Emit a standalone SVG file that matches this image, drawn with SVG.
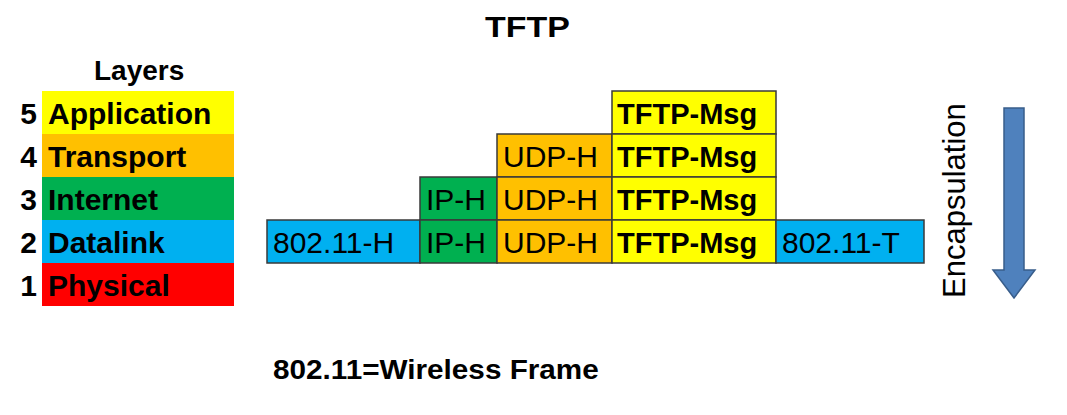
<svg xmlns="http://www.w3.org/2000/svg" width="1067" height="415" viewBox="0 0 1067 415">
<style>
text{font-family:"Liberation Sans",Arial,sans-serif;fill:#000}
.b{font-weight:bold}
.lay{font-size:30px;font-weight:bold}
.pk{font-size:30px}
.pkb{font-size:29px;font-weight:bold}
.box{stroke:#3a3a3a;stroke-width:1.5}
.y{fill:#FFFF00}.o{fill:#FFC000}.g{fill:#00B050}.bl{fill:#00B0F0}.r{fill:#FF0000}
</style>
<rect width="1067" height="415" fill="#fff"/>
<text id="title" class="b" transform="translate(485,37) scale(1.17,1)" font-size="29">TFTP</text>
<text class="b" x="94" y="80" font-size="28">Layers</text>
<g id="layer5"><rect class="y" x="42" y="91" width="192" height="43"/><text class="lay" x="37" y="124" text-anchor="end">5</text><text class="lay" x="48" y="124">Application</text></g>
<g id="layer4"><rect class="o" x="42" y="134" width="192" height="43"/><text class="lay" x="37" y="167" text-anchor="end">4</text><text class="lay" x="48" y="167">Transport</text></g>
<g id="layer3"><rect class="g" x="42" y="177" width="192" height="43"/><text class="lay" x="37" y="210" text-anchor="end">3</text><text class="lay" x="48" y="210">Internet</text></g>
<g id="layer2"><rect class="bl" x="42" y="220" width="192" height="43"/><text class="lay" x="37" y="253" text-anchor="end">2</text><text class="lay" x="48" y="253">Datalink</text></g>
<g id="layer1"><rect class="r" x="42" y="263" width="192" height="43"/><text class="lay" x="37" y="296" text-anchor="end">1</text><text class="lay" x="48" y="296">Physical</text></g>

<g id="app-msg"><rect class="box y" x="612" y="91" width="164" height="43"/><text class="pkb" x="617" y="124">TFTP-Msg</text></g>
<g id="trans-udp"><rect class="box o" x="497" y="134" width="115" height="43"/><text class="pk" x="503" y="167">UDP-H</text></g>
<g id="trans-msg"><rect class="box y" x="612" y="134" width="164" height="43"/><text class="pkb" x="617" y="167">TFTP-Msg</text></g>
<g id="inet-ip"><rect class="box g" x="420" y="177" width="77" height="43"/><text class="pk" x="426" y="210">IP-H</text></g>
<g id="inet-udp"><rect class="box o" x="497" y="177" width="115" height="43"/><text class="pk" x="503" y="210">UDP-H</text></g>
<g id="inet-msg"><rect class="box y" x="612" y="177" width="164" height="43"/><text class="pkb" x="617" y="210">TFTP-Msg</text></g>
<g id="dl-hdr"><rect class="box bl" x="267" y="220" width="153" height="43"/><text class="pk" x="273" y="253">802.11-H</text></g>
<g id="dl-ip"><rect class="box g" x="420" y="220" width="77" height="43"/><text class="pk" x="426" y="253">IP-H</text></g>
<g id="dl-udp"><rect class="box o" x="497" y="220" width="115" height="43"/><text class="pk" x="503" y="253">UDP-H</text></g>
<g id="dl-msg"><rect class="box y" x="612" y="220" width="164" height="43"/><text class="pkb" x="617" y="253">TFTP-Msg</text></g>
<g id="dl-trl"><rect class="box bl" x="776" y="220" width="148" height="43"/><text class="pk" x="782" y="253">802.11-T</text></g>

<g id="encapsulation">
<text transform="translate(965,298) rotate(-90)" font-size="31">Encapsulation</text>
<polygon points="1004,108 1024,108 1024,270 1035,270 1014,298 993,270 1004,270" fill="#4F81BD" stroke="#385D8A" stroke-width="1.5"/>
</g>
<text id="note" class="b" transform="translate(273,379) scale(1.1,1)" font-size="27">802.11=Wireless Frame</text>
</svg>
